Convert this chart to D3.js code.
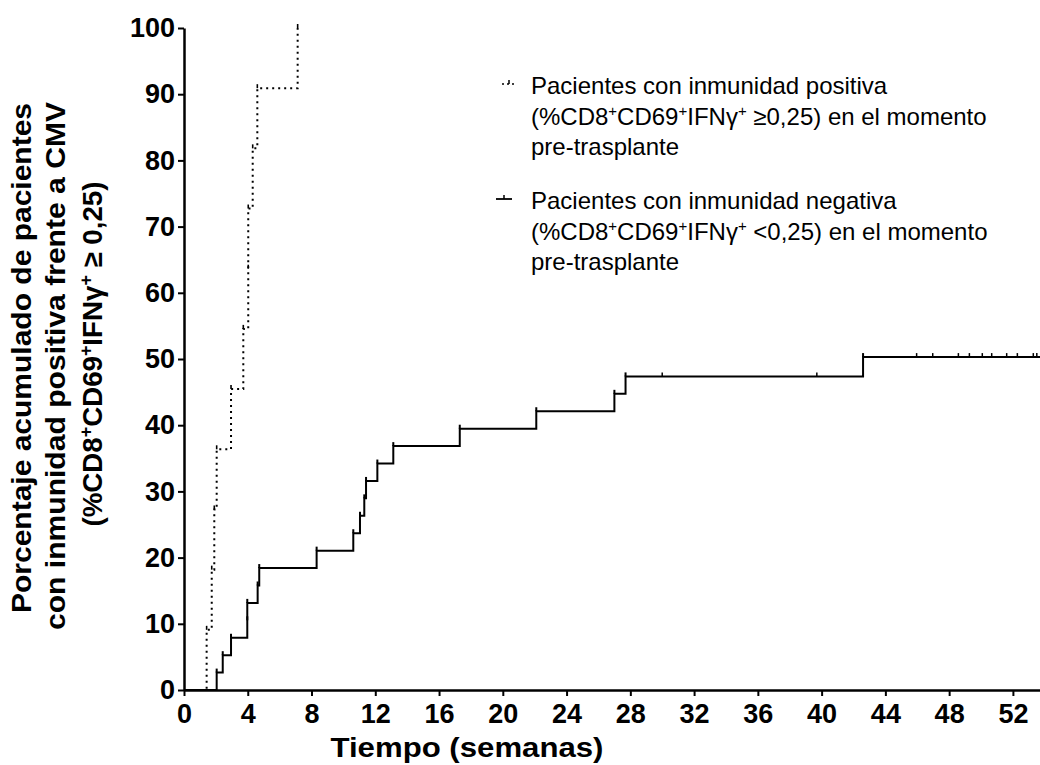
<!DOCTYPE html>
<html>
<head>
<meta charset="utf-8">
<script src="https://cdn.jsdelivr.net/npm/d3@7"></script>
<style>
  html, body { margin: 0; padding: 0; background: #fff; }
  svg { display: block; }
</style>
</head>
<body>
<div id="chart"></div>
<script>
// Cumulative % of patients reaching positive CMV immunity, by pre-transplant group
const posTimes = [0, 1.42, 1.74, 1.90, 2.05, 2.95, 3.72, 4.03, 4.03, 4.31, 4.60, 7.13];
const posPct   = [0, 9.09, 18.18, 27.27, 36.36, 45.45, 54.55, 63.64, 72.73, 81.82, 90.91, 100];

const negTimes = [0, 2.05, 2.43, 2.95, 3.97, 3.97, 4.62, 4.72, 8.32, 10.62, 11.04, 11.31, 11.42,
                  12.13, 13.13, 17.30, 22.10, 27.00, 27.70, 42.60];
const negPct   = [0, 2.63, 5.26, 7.89, 10.53, 13.16, 15.79, 18.42, 21.05, 23.68, 26.32, 28.95, 31.58,
                  34.21, 36.84, 39.47, 42.11, 44.74, 47.37, 50.29];
const negCensored = [30.0, 39.7, 45.96, 46.97, 48.58, 49.27, 50.08, 50.67, 51.61, 52.28, 53.28, 53.5];
const negFollowUpEnd = 60;

const xTicks = d3.range(0, 53, 4);
const yTicks = d3.range(0, 101, 10);

const W = 1040, H = 765;
const m = { left: 184, right: 0, top: 28, bottom: 75 };
const FONT = "'Liberation Sans', Arial, Helvetica, sans-serif";

const svg = d3.select("#chart").append("svg")
  .attr("width", W).attr("height", H)
  .style("font-family", FONT);

const x = d3.scaleLinear().domain([0, 53.7]).range([m.left, W - m.right]);
const y = d3.scaleLinear().domain([0, 100]).range([H - m.bottom, m.top]);

svg.append("clipPath").attr("id", "plot-clip")
  .append("rect")
  .attr("x", m.left).attr("y", 0)
  .attr("width", W - m.left).attr("height", H - m.bottom + 2);

// Axes
const gx = svg.append("g")
  .attr("transform", `translate(0,${y(0)})`)
  .call(d3.axisBottom(x).tickValues(xTicks).tickSize(6).tickSizeOuter(0).tickPadding(8));
const gy = svg.append("g")
  .attr("transform", `translate(${x(0)},0)`)
  .call(d3.axisLeft(y).tickValues(yTicks).tickSize(6).tickSizeOuter(0).tickPadding(3));

[gx, gy].forEach(g => {
  g.select(".domain").attr("stroke", "#000").attr("stroke-width", 2.5);
  g.selectAll(".tick line").attr("stroke", "#000").attr("stroke-width", 2);
  g.selectAll(".tick text")
    .attr("fill", "#000")
    .style("font-family", FONT)
    .style("font-size", "27px")
    .style("font-weight", "bold");
});

// Step curves
const plot = svg.append("g").attr("clip-path", "url(#plot-clip)");
const step = d3.line().curve(d3.curveStepAfter).x(d => x(d[0])).y(d => y(d[1]));

const posData = posTimes.map((t, i) => [t, posPct[i]]);
const negData = negTimes.map((t, i) => [t, negPct[i]]);
negData.push([negFollowUpEnd, negPct[negPct.length - 1]]);

plot.append("path")
  .datum(negData)
  .attr("d", step)
  .attr("fill", "none")
  .attr("stroke", "#000")
  .attr("stroke-width", 2);

plot.append("path")
  .datum(posData)
  .attr("d", step)
  .attr("fill", "none")
  .attr("stroke", "#000")
  .attr("stroke-width", 2)
  .attr("stroke-dasharray", "2,4");

// Small step overshoot ticks at each event
const TICK = 4;
plot.selectAll(".neg-step")
  .data(negData.slice(1, -1))
  .join("line")
  .attr("x1", d => x(d[0])).attr("x2", d => x(d[0]))
  .attr("y1", d => y(d[1])).attr("y2", d => y(d[1]) - TICK)
  .attr("stroke", "#000").attr("stroke-width", 2);

plot.selectAll(".pos-step")
  .data(posData.slice(1))
  .join("line")
  .attr("x1", d => x(d[0])).attr("x2", d => x(d[0]))
  .attr("y1", d => y(d[1])).attr("y2", d => y(d[1]) - TICK)
  .attr("stroke", "#000").attr("stroke-width", 1.6);

// Censored observations
const lastNeg = (t) => {
  let v = 0;
  negTimes.forEach((tt, i) => { if (tt <= t) v = negPct[i]; });
  return v;
};
plot.selectAll(".cens")
  .data(negCensored)
  .join("line")
  .attr("x1", d => x(d)).attr("x2", d => x(d))
  .attr("y1", d => y(lastNeg(d))).attr("y2", d => y(lastNeg(d)) - TICK)
  .attr("stroke", "#000").attr("stroke-width", 1.5);

// Text helper with superscripts: raised tspans, baseline restored on the next run
function richText(sel, parts, supSize) {
  let pending = 0;
  parts.forEach(p => {
    if (typeof p === "string") {
      const ts = sel.append("tspan").text(p);
      if (pending) ts.attr("dy", pending);
      pending = 0;
    } else {
      sel.append("tspan")
        .attr("dy", -p.shift + pending)
        .style("font-size", supSize + "px")
        .text(p.sup);
      pending = p.shift;
    }
  });
}

// Axis titles
svg.append("text")
  .attr("x", 467).attr("y", 757)
  .attr("text-anchor", "middle")
  .style("font-size", "27px").style("font-weight", "bold")
  .attr("textLength", 273).attr("lengthAdjust", "spacingAndGlyphs")
  .text("Tiempo (semanas)");

const yTitle = [
  { parts: ["Porcentaje acumulado de pacientes"], bx: 31, cy: 358, len: 510 },
  { parts: ["con inmunidad positiva frente a CMV"], bx: 65, cy: 366, len: 528 },
  { parts: ["(%CD8", { sup: "+", shift: 10 }, "CD69", { sup: "+", shift: 10 }, "IFN\u03B3",
            { sup: "+", shift: 10 }, " \u2265 0,25)"], bx: 102, cy: 354, len: 345 }
];
yTitle.forEach(l => {
  const t = svg.append("text")
    .attr("transform", `translate(${l.bx},${l.cy}) rotate(-90)`)
    .attr("text-anchor", "middle")
    .style("font-size", "28px").style("font-weight", "bold")
    .attr("textLength", l.len).attr("lengthAdjust", "spacingAndGlyphs");
  richText(t, l.parts, 18);
});

// Legend
const legend = svg.append("g").style("font-size", "24px");
const legendItems = [
  { dashed: true, y0: 94, lines: [
      ["Pacientes con inmunidad positiva"],
      ["(%CD8", { sup: "+", shift: 9 }, "CD69", { sup: "+", shift: 9 }, "IFN\u03B3", { sup: "+", shift: 9 }, " \u22650,25) en el momento"],
      ["pre-trasplante"] ] },
  { dashed: false, y0: 209, lines: [
      ["Pacientes con inmunidad negativa"],
      ["(%CD8", { sup: "+", shift: 9 }, "CD69", { sup: "+", shift: 9 }, "IFN\u03B3", { sup: "+", shift: 9 }, " <0,25) en el momento"],
      ["pre-trasplante"] ] }
];
legendItems.forEach(item => {
  const sy = item.y0 - 10;
  const sym = legend.append("g");
  sym.append("line")
    .attr("x1", item.dashed ? 502 : 496).attr("x2", item.dashed ? 517 : 512).attr("y1", sy).attr("y2", sy)
    .attr("stroke", "#000").attr("stroke-width", item.dashed ? 1.6 : 1.8)
    .attr("stroke-dasharray", item.dashed ? "2,3" : null);
  sym.append("line")
    .attr("x1", item.dashed ? 509 : 504).attr("x2", item.dashed ? 509 : 504)
    .attr("y1", sy).attr("y2", sy - 4)
    .attr("stroke", "#000").attr("stroke-width", 1.5);
  item.lines.forEach((parts, i) => {
    const t = legend.append("text")
      .attr("x", 531).attr("y", item.y0 + i * 30.5)
      .attr("fill", "#000");
    richText(t, parts, 15);
  });
});
</script>
</body>
</html>
